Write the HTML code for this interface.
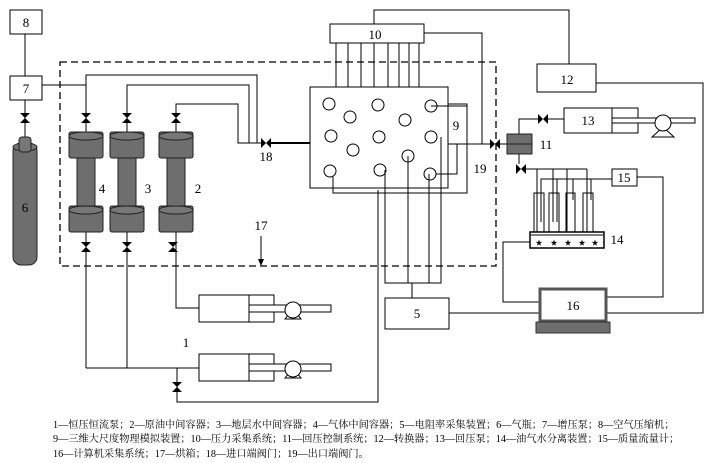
<!DOCTYPE html>
<html><head><meta charset="utf-8"><style>
html,body{margin:0;padding:0;background:#fff;}
svg{display:block;}
text{font-family:"Liberation Serif","Noto Serif CJK SC",serif;fill:#000;}
</style></head><body>
<svg width="714" height="463" viewBox="0 0 714 463" xmlns="http://www.w3.org/2000/svg">
<defs>
<g id="vv"><polygon points="-5,-5 5,-5 0,0" fill="#000"/><polygon points="-5,5 5,5 0,0" fill="#000"/></g>
<g id="vh"><polygon points="-5,-5 -5,5 0,0" fill="#000"/><polygon points="5,-5 5,5 0,0" fill="#000"/></g>
<g id="cont">
<rect x="-17" y="132" width="34" height="26" rx="2" fill="#6e6e6e" stroke="#222"/>
<ellipse cx="0" cy="136" rx="17" ry="4" fill="#777" stroke="#222"/>
<rect x="-9" y="158" width="18" height="48" fill="#6e6e6e" stroke="#222"/>
<rect x="-17" y="206" width="34" height="26" rx="2" fill="#6e6e6e" stroke="#222"/>
<ellipse cx="0" cy="210" rx="17" ry="4" fill="#777" stroke="#222"/>
</g>
<g id="pump">
<rect x="199" y="0" width="75" height="27" fill="#fff" stroke="#000"/>
<line x1="249" y1="0" x2="249" y2="27" stroke="#000"/>
<rect x="249" y="10" width="82" height="7" fill="#fff" stroke="#000"/>
<polygon points="285,24 301,24 293,14" fill="#fff" stroke="#000"/>
<circle cx="293" cy="15" r="8" fill="#fff" stroke="#000"/>
</g>
</defs>
<g fill="none" stroke="#000" stroke-width="1">
<rect x="10" y="10" width="32" height="24"/>
<rect x="10" y="76" width="32" height="24"/>
<line x1="25" y1="34" x2="25" y2="76"/>
<line x1="25" y1="100" x2="25" y2="137"/>
<rect x="60" y="62" width="436" height="204" stroke-dasharray="7,4" stroke-width="1.3"/>
<polyline points="42,85 86,85 86,132"/>
<polyline points="86,85 86,75 257,75 257,143"/>
<polyline points="127,132 127,85 249,85 249,143"/>
<polyline points="176,132 176,104 238,104 238,143 262,143"/>
<line x1="270" y1="143" x2="310" y2="143" stroke-width="2"/>
<line x1="86" y1="232" x2="86" y2="368"/>
<line x1="127" y1="232" x2="127" y2="368"/>
<line x1="86" y1="368" x2="199" y2="368"/>
<polyline points="176,232 176,308 199,308"/>
<polyline points="177,368 177,402 378,402 378,190"/>
<line x1="261" y1="236" x2="261" y2="263"/>
<rect x="330" y="24" width="94" height="19"/>
<polyline points="374,24 374,10 569,10 569,64"/>
<polyline points="424,33 482,33 482,144"/>
<line x1="336" y1="43" x2="336" y2="87"/><line x1="348" y1="43" x2="348" y2="87"/>
<line x1="361" y1="43" x2="361" y2="87"/><line x1="374" y1="43" x2="374" y2="87"/>
<line x1="388" y1="43" x2="388" y2="87"/><line x1="399" y1="43" x2="399" y2="87"/>
<line x1="409" y1="43" x2="409" y2="87"/><line x1="419" y1="43" x2="419" y2="87"/>
<rect x="310" y="87" width="138" height="101"/>
<rect x="448" y="104" width="19" height="40"/>
<circle cx="329" cy="104" r="6"/><circle cx="350" cy="117" r="6"/><circle cx="378" cy="105" r="6"/>
<circle cx="405" cy="120" r="6"/><circle cx="431" cy="106" r="6"/><circle cx="331" cy="136" r="6"/>
<circle cx="379" cy="137" r="6"/><circle cx="353" cy="150" r="6"/><circle cx="431" cy="137" r="6"/>
<circle cx="408" cy="156" r="6"/><circle cx="330" cy="171" r="6"/><circle cx="380" cy="170" r="6"/>
<circle cx="430" cy="174" r="6"/>
<polyline points="431,106 467,106 467,193 333,193 333,177"/>
<polyline points="448,144 490,144"/>
<polyline points="457,144 457,174 436,174"/>
<polyline points="385,170 385,283 441,283 441,137"/>
<line x1="408" y1="156" x2="408" y2="283"/>
<line x1="429" y1="174" x2="429" y2="283"/>
<line x1="412" y1="283" x2="412" y2="298"/>
<rect x="385" y="298" width="64" height="31"/>
<rect x="537" y="64" width="59" height="28"/>
<polyline points="596,83 703,83 703,313 606,313"/>
<line x1="449" y1="313" x2="540" y2="313"/>
<line x1="500" y1="144" x2="507" y2="144"/>
<polyline points="519,134 519,119 538,119"/>
<line x1="548" y1="119" x2="564" y2="119"/>
<rect x="564" y="108" width="74" height="25"/>
<line x1="612" y1="108" x2="612" y2="133"/>
<rect x="612" y="118" width="83" height="5" fill="#fff"/>
<polygon points="652,137 674,137 663,127" fill="#fff"/>
<circle cx="663" cy="123" r="8" fill="#fff"/>
<line x1="519" y1="154" x2="519" y2="164"/>
<polyline points="526,169 587,169"/>
<line x1="537" y1="169" x2="537" y2="232"/><line x1="553" y1="169" x2="553" y2="222"/>
<line x1="567" y1="169" x2="567" y2="232"/><line x1="587" y1="169" x2="587" y2="232"/>
<polyline points="612,179 541,179 541,222"/>
<line x1="557" y1="179" x2="557" y2="222"/><line x1="573" y1="179" x2="573" y2="200"/><line x1="591" y1="179" x2="591" y2="200"/>
<rect x="534" y="193" width="10" height="39"/><rect x="549" y="193" width="10" height="39"/>
<rect x="566" y="193" width="9" height="39"/><rect x="583" y="193" width="10" height="39"/>
<rect x="612" y="169" width="25" height="17"/>
<polyline points="637,177 663,177 663,297 606,297"/>
<rect x="530" y="232" width="74" height="16" stroke-width="1.5"/>
<line x1="531" y1="235" x2="603" y2="235"/>
<polyline points="530,242 503,242 503,302 540,302"/>
<rect x="540" y="289" width="66" height="32" stroke="#555" stroke-width="3"/>
<rect x="536" y="322" width="74" height="11" fill="#6e6e6e" stroke="#333"/>
</g>
<rect x="13" y="143" width="24" height="122" rx="8" fill="#6e6e6e" stroke="#222"/>
<ellipse cx="25" cy="147" rx="12" ry="4" fill="#777" stroke="#222"/>
<rect x="19" y="137" width="12" height="15" rx="3" fill="#777" stroke="#222"/>
<use href="#cont" x="86"/><use href="#cont" x="127"/><use href="#cont" x="176"/>
<use href="#pump" y="295"/><use href="#pump" y="354"/>
<rect x="507" y="134" width="25" height="20" fill="#6e6e6e" stroke="#222"/>
<line x1="507" y1="144" x2="532" y2="144" stroke="#222"/>
<use href="#vv" x="25" y="118"/>
<use href="#vv" x="86" y="118"/><use href="#vv" x="127" y="118"/><use href="#vv" x="176" y="118"/>
<use href="#vv" x="86" y="247"/><use href="#vv" x="127" y="247"/><use href="#vv" x="173" y="247"/>
<use href="#vv" x="177" y="387"/>
<use href="#vh" x="266" y="143"/><use href="#vh" x="495" y="144"/>
<use href="#vh" x="543" y="119"/><use href="#vh" x="521" y="169"/>
<polygon points="261,266 258,259 264,259" fill="#000"/>
<g fill="#000" font-size="7" text-anchor="middle">
<text x="539" y="245">★</text><text x="554" y="245">★</text><text x="568" y="245">★</text><text x="582" y="245">★</text><text x="595" y="245">★</text>
</g>
<g font-size="13" text-anchor="middle">
<text x="26" y="27">8</text><text x="26" y="93">7</text><text x="25" y="212">6</text>
<text x="102" y="193">4</text><text x="148" y="193">3</text><text x="198" y="193">2</text>
<text x="266" y="161">18</text><text x="261" y="230">17</text>
<text x="375" y="39">10</text><text x="456" y="130">9</text><text x="480" y="173">19</text>
<text x="567" y="84">12</text><text x="588" y="125">13</text><text x="546" y="149">11</text>
<text x="624" y="182">15</text><text x="617" y="244">14</text>
<text x="417" y="318">5</text><text x="573" y="310">16</text><text x="186" y="347">1</text>
</g>
<g font-size="10.2">
<text x="53" y="428">1—恒压恒流泵；2—原油中间容器；3—地层水中间容器；4—气体中间容器；5—电阻率采集装置；6—气瓶；7—增压泵；8—空气压缩机；</text>
<text x="53" y="442">9—三维大尺度物理模拟装置；10—压力采集系统；11—回压控制系统；12—转换器；13—回压泵；14—油气水分离装置；15—质量流量计；</text>
<text x="53" y="457">16—计算机采集系统；17—烘箱；18—进口端阀门；19—出口端阀门。</text>
</g>
</svg>
</body></html>
